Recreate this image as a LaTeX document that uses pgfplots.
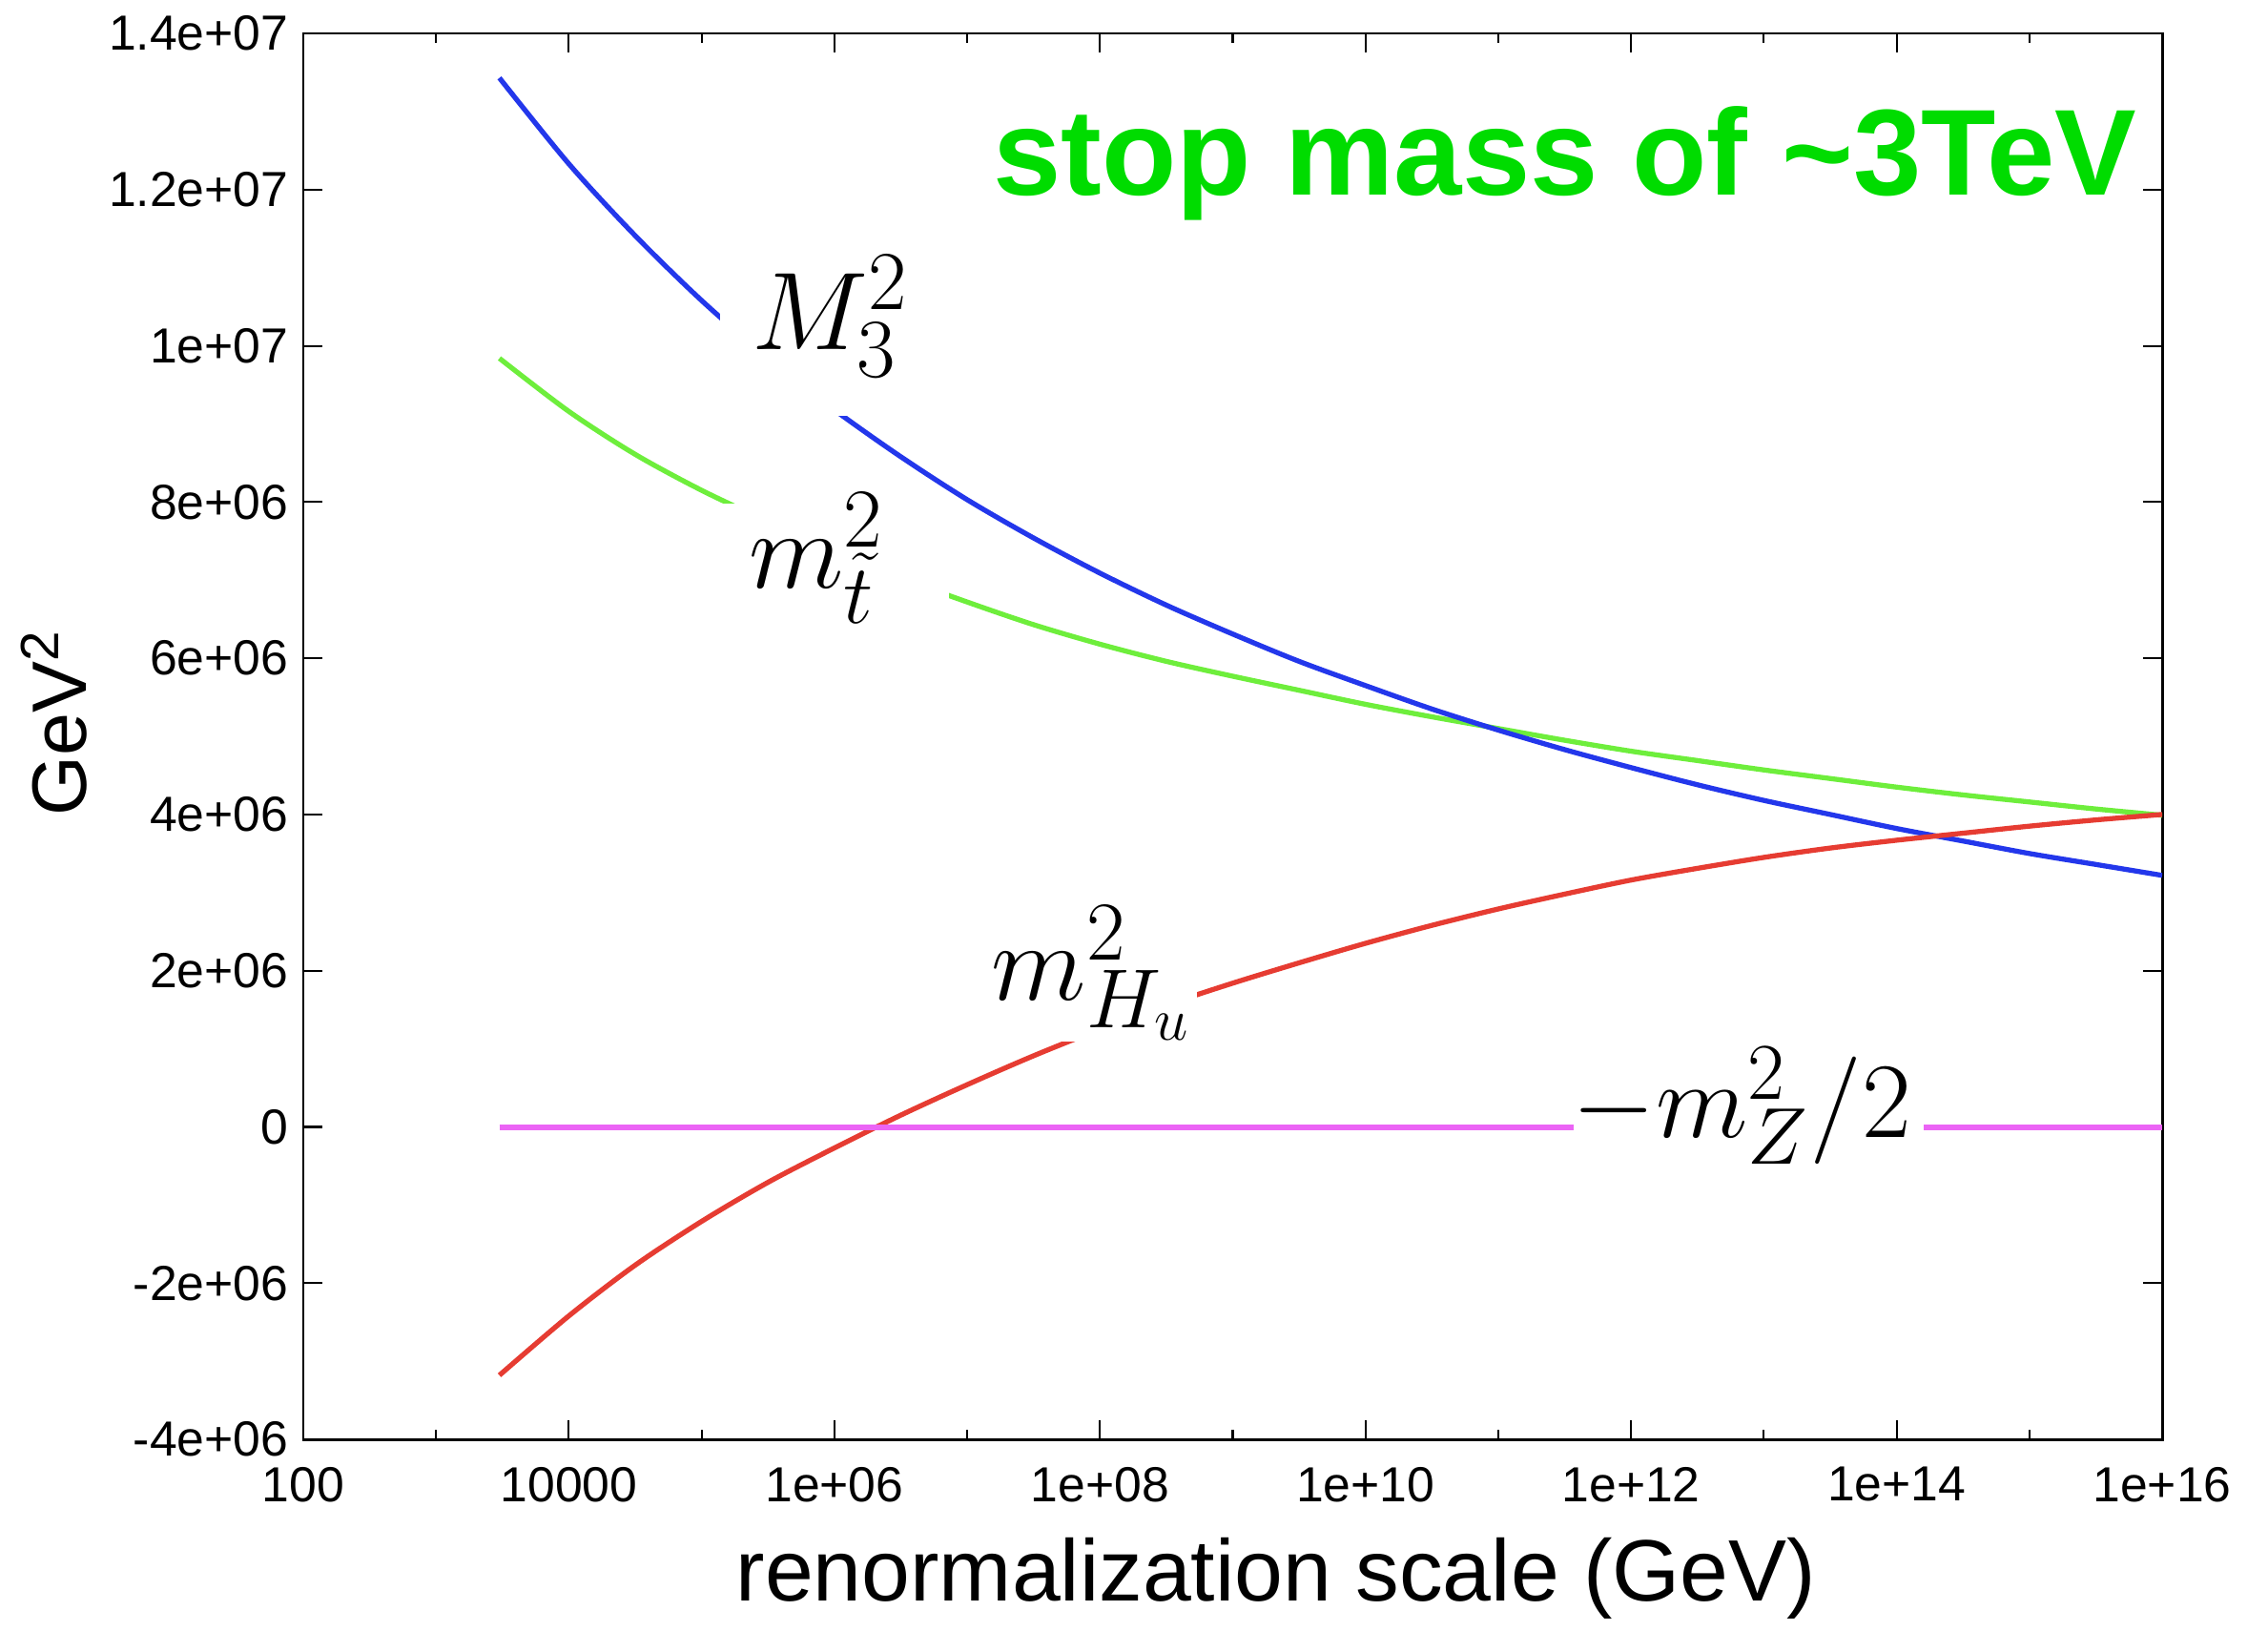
\RequirePackage{fix-cm}
\documentclass[border=0pt]{standalone}
\usepackage[no-math]{fontspec}
\setmainfont{Liberation Sans}
\usepackage{pgfplots}
\usepackage{pgfplotstable}
\pgfplotsset{compat=1.18}
\DeclareMathSizes{33}{33}{25}{18}
\DeclareMathSizes{32}{32}{24}{17}
\definecolor{cblue}{RGB}{35,55,235}
\definecolor{cgreen}{RGB}{110,238,60}
\definecolor{cred}{RGB}{230,60,50}
\definecolor{cmag}{RGB}{235,100,245}
\definecolor{ctitle}{RGB}{0,220,0}
\pgfplotstableread{
x        M3        stop     Hu
3000     13.43e6   9.84e6   -3.18e6
1e4      12.33e6   9.16e6   -2.42e6
3.162e4  11.41e6   8.61e6   -1.77e6
1e5      10.58e6   8.15e6   -1.21e6
3.162e5  9.84e6    7.75e6   -0.71e6
1e6      9.18e6    7.37e6   -0.27e6
3.162e6  8.58e6    7.03e6   0.15e6
1e7      8.03e6    6.72e6   0.54e6
3.162e7  7.54e6    6.43e6   0.91e6
1e8      7.09e6    6.18e6   1.25e6
3.162e8  6.68e6    5.96e6   1.56e6
1e9      6.31e6    5.77e6   1.84e6
3.162e9  5.96e6    5.59e6   2.10e6
1e10     5.65e6    5.41e6   2.35e6
3.162e10 5.35e6    5.25e6   2.58e6
1e11     5.08e6    5.10e6   2.79e6
3.162e11 4.83e6    4.95e6   2.98e6
1e12     4.60e6    4.81e6   3.16e6
3.162e12 4.38e6    4.69e6   3.31e6
1e13     4.18e6    4.57e6   3.45e6
3.162e13 4.00e6    4.46e6   3.57e6
1e14     3.82e6    4.35e6   3.67e6
3.162e14 3.66e6    4.25e6   3.76e6
1e15     3.50e6    4.16e6   3.85e6
3.162e15 3.36e6    4.07e6   3.93e6
1e16     3.22e6    3.99e6   4.00e6
}\rge
\begin{document}
\begin{tikzpicture}
\begin{axis}[
  at={(0,0)}, anchor=south west,
  scale only axis, width=194.9mm, height=147.4mm,
  xmode=log, xmin=100, xmax=1e16, ymin=-4e6, ymax=1.4e7,
  xtick={1e2,1e4,1e6,1e8,1e10,1e12,1e14,1e16},
  xticklabels={100,10000,1e+06,1e+08,1e+10,1e+12,1e+14,1e+16},
  minor xtick={1e3,1e5,1e7,1e9,1e11,1e13,1e15},
  ytick={-4e6,-2e6,0,2e6,4e6,6e6,8e6,10e6,12e6,14e6},
  yticklabels={-4e+06,-2e+06,0,2e+06,4e+06,6e+06,8e+06,1e+07,1.2e+07,1.4e+07},
  scaled y ticks=false,
  tick align=inside,
  major tick length=2mm, minor tick length=1mm,
  tick style={black, line width=0.6pt},
  axis line style={line width=0.85pt},
  ticklabel style={font=\fontsize{14.7}{17}\selectfont, inner sep=0pt},
  xticklabel style={yshift=-2.85mm},
  yticklabel style={xshift=-1.5mm},
  xlabel={renormalization scale (GeV)},
  xlabel style={at={(axis description cs:0.5233,-0.115)}, anchor=base, inner sep=0pt, font=\fontsize{26}{30}\selectfont},
  ylabel={GeV\textsuperscript{2}},
  ylabel style={at={(axis description cs:-0.1165,0.5095)}, anchor=base, rotate=0, inner sep=0pt, font=\fontsize{23}{27}\selectfont},
]
\addplot[cgreen, line width=1.5pt, smooth] table[x=x,y=stop]{\rge};
\addplot[cblue, line width=1.5pt, smooth] table[x=x,y=M3]{\rge};
\addplot[cred, line width=1.5pt, smooth] table[x=x,y=Hu]{\rge};
\addplot[cmag, line width=1.6pt] coordinates {(3000,-4158) (1e16,-4158)};
\fill[white] (rel axis cs:0.2242,0.7280) rectangle (rel axis cs:0.3345,0.8609);
\fill[white] (rel axis cs:0.2217,0.5407) rectangle (rel axis cs:0.3474,0.6655);
\fill[white] (rel axis cs:0.3602,0.2829) rectangle (rel axis cs:0.4808,0.3894);
\fill[white] (rel axis cs:0.6834,0.1893) rectangle (rel axis cs:0.8717,0.2741);
\node[anchor=base west, inner sep=0pt, font=\fontsize{33}{38}\selectfont] at (rel axis cs:0.2410,0.7748) {$M_3^2$};
\node[anchor=base west, inner sep=0pt, font=\fontsize{33}{38}\selectfont] at (rel axis cs:0.2395,0.6058) {$m_{\tilde t}^2$};
\node[anchor=base west, inner sep=0pt, font=\fontsize{33}{38}\selectfont] at (rel axis cs:0.3700,0.3121) {$m_{H_u}^2$};
\node[anchor=base west, inner sep=0pt, font=\fontsize{32}{37}\selectfont] at (rel axis cs:0.6825,0.2144) {$-m_Z^2/2$};
\node[anchor=base east, inner sep=0pt, text=ctitle, font=\fontsize{36.5}{42}\selectfont\bfseries] at (rel axis cs:0.9867,0.8847) {stop mass of \textasciitilde3TeV};
\end{axis}
\pgfresetboundingbox
\useasboundingbox (-31.8mm,-22.2mm) rectangle (206.0mm,150.9mm);
\end{tikzpicture}
\end{document}
